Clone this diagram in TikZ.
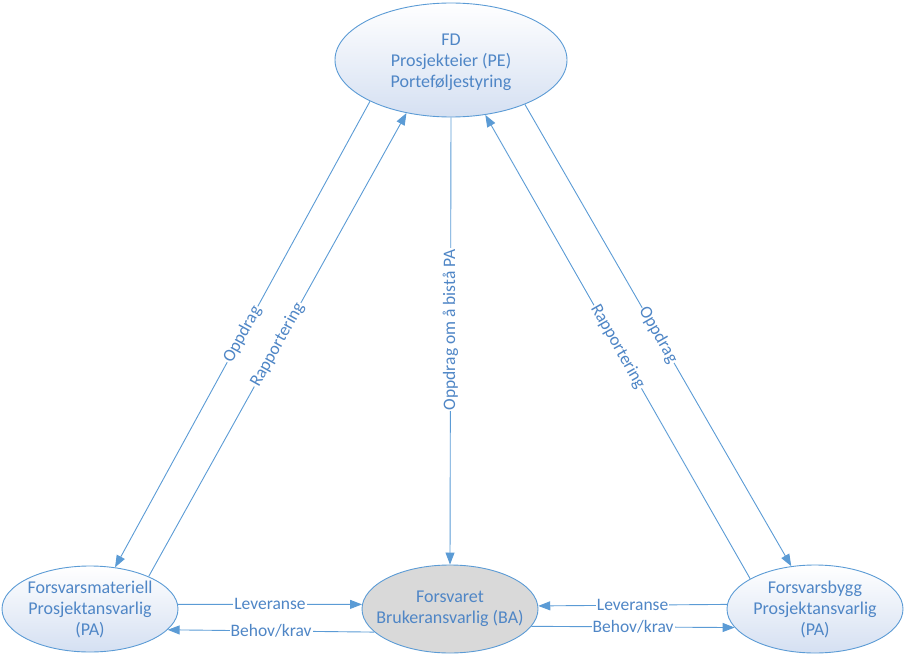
\documentclass[tikz,border=0pt]{standalone}
\usepackage{fontspec}
\setmainfont{Carlito}
\usetikzlibrary{arrows.meta,shapes.geometric}
\definecolor{lineblue}{HTML}{5B9BD5}
\definecolor{textblue}{HTML}{4F86C6}
\definecolor{fillblue}{HTML}{D5E0F2}
\definecolor{bagray}{HTML}{D9D9D9}
\tikzset{
  ent/.style={ellipse, draw=lineblue, line width=0.9pt, inner sep=0pt, top color=white, bottom color=fillblue},
  entgray/.style={ellipse, draw=lineblue, line width=0.9pt, inner sep=0pt, fill=bagray},
  etext/.style={text=textblue, align=center, font=\fontsize{18}{21}\selectfont},
  conn/.style={draw=lineblue, line width=0.9pt, -{Triangle[length=12pt,width=9pt]}},
  lbl/.style={fill=white, text=textblue, inner sep=1pt, font=\fontsize{17.5}{20}\selectfont}
}
\begin{document}
\begin{tikzpicture}[x=1pt,y=-1pt]
\useasboundingbox (0,0) rectangle (905,655);
% nodes
\node[ent, minimum width=232pt, minimum height=114pt] (fd) at (451,60) {};
\node[etext] (fdt) at (451,62) {FD\\Prosjekteier (PE)\\Porteføljestyring};
\node[ent, minimum width=176pt, minimum height=86pt] (pa1) at (90,609) {};
\node[etext] (pa1t) at (90,609) {Forsvarsmateriell\\Prosjektansvarlig\\(PA)};
\node[entgray, minimum width=176pt, minimum height=88pt] (ba) at (450,609) {};
\node[etext] (bat) at (450,609) {Forsvaret\\Brukeransvarlig (BA)};
\node[ent, minimum width=176pt, minimum height=88pt] (pa2) at (815,609) {};
\node[etext] (pa2t) at (815,609) {Forsvarsbygg\\Prosjektansvarlig\\(PA)};
% top <-> left
\draw[conn] (fd.207.4) -- node[lbl, sloped] {Oppdrag} (pa1.59.6);
\draw[conn] (pa1.29.1) -- node[lbl, sloped] {Rapportering} (fd.230.1);
% top -> middle
\draw[conn] (fd.270) -- node[lbl, rotate=90, pos=0.475] {Oppdrag om å bistå PA} (ba.90);
% top <-> right
\draw[conn] (pa2.155.2) -- node[lbl, sloped] {Rapportering} (fd.302.5);
\draw[conn] (fd.329.4) -- node[lbl, sloped] {Oppdrag} (pa2.119.6);
% bottom left
\draw[conn] (pa1.3.9) -- node[lbl] {Leveranse} (ba.177.4);
\draw[conn] (ba.197) -- node[lbl] {Behov/krav} (pa1.-15);
% bottom right
\draw[conn] (pa2.177.4) -- node[lbl] {Leveranse} (ba.2.6);
\draw[conn] (ba.-12.2) -- node[lbl] {Behov/krav} (pa2.-167);
\end{tikzpicture}
\end{document}
